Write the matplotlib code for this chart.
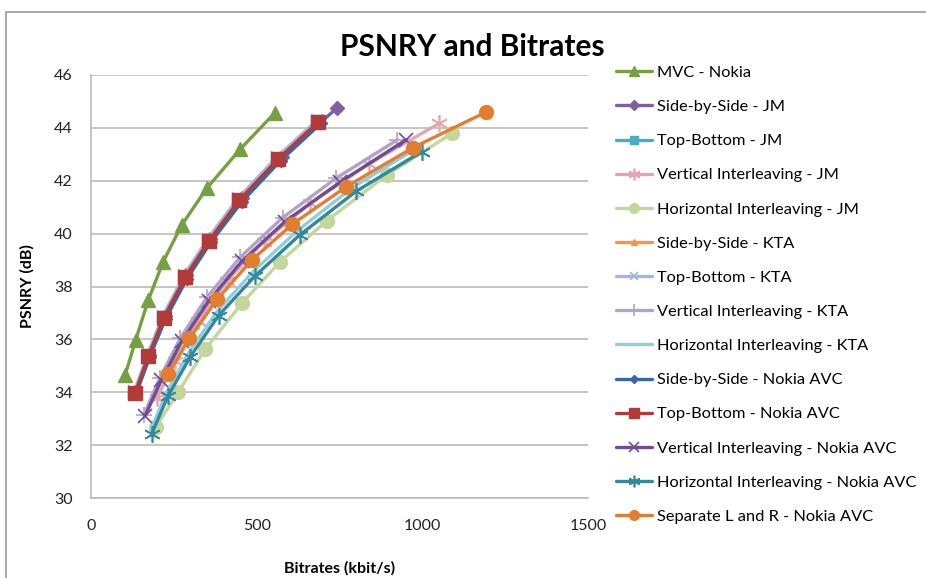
import matplotlib
matplotlib.use("Agg")
import matplotlib.pyplot as plt
from matplotlib.patches import Rectangle

# ---- data ----
labels = [
    "MVC - Nokia",
    "Side-by-Side - JM",
    "Top-Bottom - JM",
    "Vertical Interleaving - JM",
    "Horizontal Interleaving - JM",
    "Side-by-Side - KTA",
    "Top-Bottom - KTA",
    "Vertical Interleaving - KTA",
    "Horizontal Interleaving - KTA",
    "Side-by-Side - Nokia AVC",
    "Top-Bottom - Nokia AVC",
    "Vertical Interleaving - Nokia AVC",
    "Horizontal Interleaving - Nokia AVC",
    "Separate L and R - Nokia AVC",
]

mvc_x = [103, 135, 173, 218, 274, 349, 450, 555]
mvc_y = [34.65, 35.98, 37.49, 38.94, 40.33, 41.71, 43.19, 44.57]

sbs_jm_x = [134, 175, 222, 287, 360, 455, 576, 742]
sbs_jm_y = [34.0, 35.42, 36.87, 38.42, 39.8, 41.34, 42.9, 44.75]

tb_jm_x = [131, 171, 218, 282, 353, 445, 561, 683]
tb_jm_y = [33.98, 35.38, 36.83, 38.36, 39.74, 41.28, 42.82, 44.25]

vi_jm_x = [200, 254, 323, 410, 521, 662, 840, 1051]
vi_jm_y = [33.8, 35.2, 36.7, 38.2, 39.7, 41.15, 42.65, 44.17]

hi_jm_x = [196, 264, 344, 455, 571, 711, 892, 1089]
hi_jm_y = [32.7, 34.02, 35.62, 37.36, 38.94, 40.48, 42.21, 43.79]

sbs_kta_x = [132, 172, 219, 283, 355, 447, 562, 684]
sbs_kta_y = [33.98, 35.4, 36.84, 38.37, 39.75, 41.29, 42.83, 44.25]

tb_kta_x = [131, 171, 217, 281, 352, 444, 560, 681]
tb_kta_y = [34.03, 35.44, 36.89, 38.42, 39.8, 41.34, 42.88, 44.28]

vi_kta_x = [160, 208, 270, 350, 450, 578, 740, 925]
vi_kta_y = [33.15, 34.55, 36.05, 37.6, 39.1, 40.6, 42.1, 43.55]

hi_kta_x = [180, 228, 295, 380, 488, 622, 790, 985]
hi_kta_y = [32.55, 34.0, 35.5, 37.05, 38.55, 40.1, 41.75, 43.25]

sbs_nok_x = [136, 177, 225, 290, 362, 455, 572, 695]
sbs_nok_y = [33.93, 35.33, 36.78, 38.3, 39.68, 41.2, 42.76, 44.18]

tb_nok_x = [133, 173, 220, 284, 356, 448, 564, 686]
tb_nok_y = [33.96, 35.37, 36.82, 38.35, 39.73, 41.27, 42.81, 44.23]

vi_nok_x = [163, 212, 275, 355, 455, 585, 752, 951]
vi_nok_y = [33.1, 34.45, 35.95, 37.45, 38.95, 40.45, 41.95, 43.55]

hi_nok_x = [183, 232, 300, 385, 495, 630, 800, 998]
hi_nok_y = [32.42, 33.85, 35.35, 36.9, 38.4, 39.95, 41.6, 43.1]

sep_nok_x = [233, 297, 381, 485, 608, 770, 971, 1191]
sep_nok_y = [34.68, 36.04, 37.52, 39.0, 40.36, 41.77, 43.25, 44.59]

xs = [mvc_x, sbs_jm_x, tb_jm_x, vi_jm_x, hi_jm_x, sbs_kta_x, tb_kta_x,
      vi_kta_x, hi_kta_x, sbs_nok_x, tb_nok_x, vi_nok_x, hi_nok_x, sep_nok_x]
ys = [mvc_y, sbs_jm_y, tb_jm_y, vi_jm_y, hi_jm_y, sbs_kta_y, tb_kta_y,
      vi_kta_y, hi_kta_y, sbs_nok_y, tb_nok_y, vi_nok_y, hi_nok_y, sep_nok_y]

x_ticks = [0, 500, 1000, 1500]
y_ticks = [30, 32, 34, 36, 38, 40, 42, 44, 46]

# ---- styles ----
styles = [
    dict(color="#77A043", marker="^", ms=10),
    dict(color="#7E5EA6", marker="D", ms=7),
    dict(color="#4BACC6", marker="s", ms=9),
    dict(color="#E3A5B0", marker=(6, 2, 0), ms=12, mew=1.2),
    dict(color="#C3D69B", marker="o", ms=10),
    dict(color="#F79646", marker="^", ms=7),
    dict(color="#A3B7DE", marker="x", ms=9, mew=1.2),
    dict(color="#B3A2C7", marker="+", ms=12, mew=1.2),
    dict(color="#93CDDD", marker=None, ms=0),
    dict(color="#3A68A6", marker="D", ms=6),
    dict(color="#B23A38", marker="s", ms=10),
    dict(color="#6E4C96", marker="x", ms=10, mew=1.2),
    dict(color="#31889F", marker=(6, 2, 0), ms=12, mew=1.2),
    dict(color="#E37E2E", marker="o", ms=10),
]

plt.rcParams['font.family'] = ['Lato', 'DejaVu Sans']

fig = plt.figure(figsize=(9.26, 5.78), dpi=100)
ax = fig.add_axes([91 / 926, 80 / 578, 497 / 926, 423 / 578])

for x, y, lab, st in zip(xs, ys, labels, styles):
    ax.plot(x, y, label=lab, color=st["color"], lw=2.4, marker=st["marker"],
            markersize=st["ms"], markeredgewidth=st.get("mew", 1.0),
            markeredgecolor=st["color"], markerfacecolor=st["color"],
            solid_capstyle="round")

ax.set_xlim(0, 1500)
ax.set_ylim(30, 46)
ax.set_xticks(x_ticks)
ax.set_yticks(y_ticks)
ax.tick_params(axis="both", length=0, labelsize=11.5, colors="#222222")
ax.tick_params(axis="x", pad=15)
ax.tick_params(axis="y", pad=13)
ax.yaxis.grid(True, color="#BBBBBB", lw=1.2)
ax.set_axisbelow(True)
for s in ["top", "right"]:
    ax.spines[s].set_visible(False)
for s in ["left", "bottom"]:
    ax.spines[s].set_color("#BBBBBB")
    ax.spines[s].set_linewidth(1.2)

ax.set_xlabel("Bitrates (kbit/s)", fontsize=11.5, fontweight="bold", labelpad=20)
ax.set_ylabel("PSNRY (dB)", fontsize=11.5, fontweight="bold", labelpad=14)

fig.text(0.51, 0.918, "PSNRY and Bitrates", ha="center", va="center",
         fontsize=21.5, fontweight="bold")

leg = fig.legend(loc="upper left", bbox_to_anchor=(609 / 926, 1 - 59 / 578),
                 frameon=False, fontsize=11.8, handlelength=2.2,
                 handletextpad=0.3, labelspacing=1.2, markerscale=0.7,
                 borderaxespad=0)

fig.add_artist(Rectangle((6 / 926, -0.1), 1.2, 1.1 - 12 / 578, transform=fig.transFigure,
                         fill=False, edgecolor="#9A9A9A", lw=1.2))

fig.savefig("out.png", dpi=100)
